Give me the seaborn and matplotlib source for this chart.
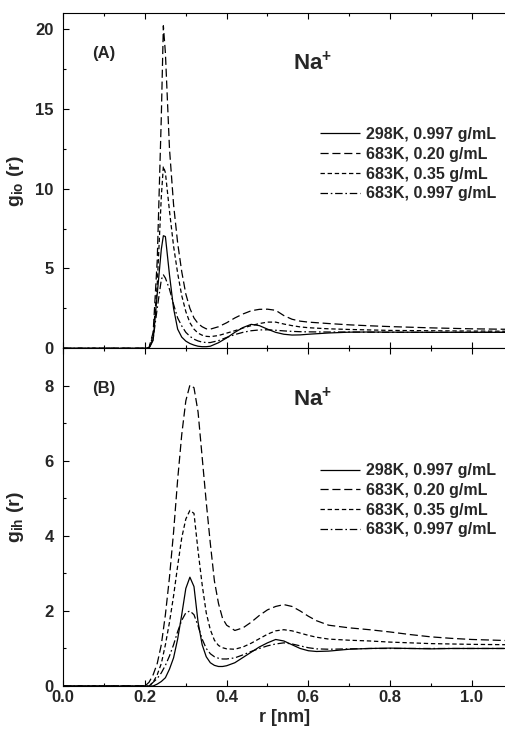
import matplotlib
matplotlib.use("Agg")
import matplotlib.pyplot as plt
from matplotlib.ticker import MultipleLocator
import seaborn as sns

# ---------------- data ----------------
labels = ["298K, 0.997 g/mL", "683K, 0.20 g/mL", "683K, 0.35 g/mL", "683K, 0.997 g/mL"]

# panel A : Na+ - O
r_io = [0.00, 0.20, 0.21, 0.22, 0.23, 0.24, 0.245, 0.25, 0.26, 0.27, 0.28, 0.29, 0.30,
        0.31, 0.32, 0.33, 0.34, 0.35, 0.36, 0.38, 0.40, 0.42, 0.44, 0.46, 0.48, 0.50,
        0.52, 0.54, 0.56, 0.58, 0.60, 0.65, 0.70, 0.75, 0.80, 0.90, 1.00, 1.09]
gio_298_0997 = [0, 0, 0.0, 0.5, 3.4, 6.2, 7.05, 7.0, 4.6, 2.5, 1.2, 0.7, 0.45, 0.3, 0.2,
                0.13, 0.1, 0.1, 0.13, 0.35, 0.65, 1.0, 1.3, 1.5, 1.42, 1.2, 1.0, 0.88,
                0.83, 0.84, 0.88, 0.96, 1.01, 1.02, 1.01, 1.0, 1.0, 1.0]
gio_683_020 = [0, 0, 0.05, 1.0, 5.5, 14.5, 20.2, 18.5, 12.5, 9.0, 6.6, 4.8, 3.4, 2.5, 1.9,
               1.55, 1.35, 1.22, 1.2, 1.35, 1.6, 1.9, 2.15, 2.35, 2.44, 2.45, 2.38, 2.05,
               1.82, 1.7, 1.64, 1.55, 1.47, 1.41, 1.36, 1.28, 1.22, 1.19]
gio_683_035 = [0, 0, 0.03, 0.8, 4.0, 9.5, 11.4, 11.0, 8.6, 6.4, 4.7, 3.3, 2.3, 1.6, 1.2,
               0.95, 0.82, 0.75, 0.73, 0.8, 0.95, 1.1, 1.27, 1.42, 1.55, 1.64, 1.64, 1.52,
               1.42, 1.34, 1.29, 1.22, 1.18, 1.15, 1.12, 1.1, 1.08, 1.07]
gio_683_0997 = [0, 0, 0.0, 0.6, 2.5, 4.3, 4.6, 4.4, 3.7, 2.75, 1.9, 1.4, 1.0, 0.75, 0.57,
                0.46, 0.39, 0.36, 0.36, 0.48, 0.68, 0.86, 1.0, 1.1, 1.15, 1.16, 1.13, 1.09,
                1.06, 1.04, 1.03, 1.02, 1.02, 1.01, 1.0, 1.0, 1.0, 1.0]

# panel B : Na+ - H
r_ih = [0.00, 0.20, 0.21, 0.22, 0.23, 0.24, 0.25, 0.26, 0.27, 0.28, 0.29, 0.30, 0.31, 0.32,
        0.33, 0.34, 0.35, 0.36, 0.37, 0.38, 0.39, 0.40, 0.42, 0.44, 0.46, 0.48, 0.50, 0.52,
        0.54, 0.56, 0.58, 0.60, 0.62, 0.65, 0.70, 0.75, 0.80, 0.85, 0.90, 0.95, 1.00, 1.09]
gih_298_0997 = [0, 0, 0, 0, 0.05, 0.12, 0.22, 0.45, 0.75, 1.25, 1.9, 2.6, 2.9, 2.65, 1.7,
                1.1, 0.78, 0.62, 0.55, 0.52, 0.52, 0.54, 0.62, 0.76, 0.9, 1.04, 1.15, 1.24,
                1.2, 1.1, 1.0, 0.94, 0.92, 0.93, 0.98, 1.0, 1.01, 1.0, 0.99, 1.0, 1.0, 1.0]
gih_683_020 = [0, 0, 0.1, 0.3, 0.6, 1.1, 1.9, 2.9, 4.1, 5.5, 6.7, 7.6, 8.02, 7.95, 7.3, 6.1,
               4.9, 3.8, 2.8, 2.2, 1.8, 1.62, 1.48, 1.55, 1.7, 1.88, 2.03, 2.12, 2.17, 2.12,
               2.0, 1.86, 1.74, 1.62, 1.55, 1.5, 1.44, 1.37, 1.31, 1.27, 1.24, 1.21]
gih_683_035 = [0, 0, 0, 0.1, 0.3, 0.6, 1.1, 1.7, 2.4, 3.2, 3.95, 4.45, 4.68, 4.6, 3.6, 2.7,
               1.95, 1.5, 1.22, 1.08, 1.02, 0.99, 0.98, 1.04, 1.14, 1.26, 1.38, 1.47, 1.5,
               1.47, 1.41, 1.35, 1.3, 1.25, 1.22, 1.2, 1.17, 1.15, 1.13, 1.12, 1.11, 1.10]
gih_683_0997 = [0, 0, 0, 0.1, 0.2, 0.35, 0.55, 0.8, 1.1, 1.45, 1.75, 1.95, 2.0, 1.9, 1.6,
                1.25, 1.0, 0.86, 0.78, 0.74, 0.72, 0.72, 0.75, 0.83, 0.92, 1.0, 1.07, 1.12,
                1.15, 1.12, 1.07, 1.02, 0.99, 0.98, 0.99, 1.0, 1.0, 1.0, 1.0, 1.0, 1.0, 1.0]

x_ticks = [0.0, 0.2, 0.4, 0.6, 0.8, 1.0]

# ---------------- style ----------------
sns.set_theme(style="ticks")
FONT = ["Liberation Sans", "DejaVu Sans"]
plt.rcParams["font.family"] = FONT
plt.rcParams["font.weight"] = "bold"
plt.rcParams["mathtext.fontset"] = "custom"
plt.rcParams["mathtext.rm"] = "Liberation Sans:bold"
plt.rcParams["mathtext.it"] = "Liberation Sans:bold"
plt.rcParams["mathtext.bf"] = "Liberation Sans:bold"

styles = [(0, ()), (0, (6.5, 3.0)), (0, (3.5, 2.2)), (0, (6.0, 2.2, 1.3, 2.2))]

fig = plt.figure(figsize=(5.06, 7.33), dpi=100)
L, R = 63.3 / 506, 1.0
axA = fig.add_axes([L, 1 - 348.3 / 733, R - L, (348.3 - 13) / 733])
axB = fig.add_axes([L, 1 - 686 / 733, R - L, (686 - 348.3) / 733])

panels = [
    (axA, r_io, [gio_298_0997, gio_683_020, gio_683_035, gio_683_0997], 21, 5, 2.5,
     r"$\mathrm{g_{io}}$ (r)", "(A)"),
    (axB, r_ih, [gih_298_0997, gih_683_020, gih_683_035, gih_683_0997], 9, 2, 1,
     r"$\mathrm{g_{ih}}$ (r)", "(B)"),
]

for ax, r, series, ymax, ymaj, ymin, ylab, tag in panels:
    for g, lab, ls in zip(series, labels, styles):
        sns.lineplot(x=r, y=g, ax=ax, color="black", linewidth=0.9,
                     linestyle=ls, label=lab)
    ax.set_xlim(0, 1.084)
    ax.set_ylim(0, ymax)
    ax.xaxis.set_major_locator(MultipleLocator(0.2))
    ax.xaxis.set_minor_locator(MultipleLocator(0.1))
    ax.yaxis.set_major_locator(MultipleLocator(ymaj))
    ax.yaxis.set_minor_locator(MultipleLocator(ymin))
    ax.tick_params(which="both", direction="in", top=True, bottom=True,
                   left=True, right=False, width=0.8, color="black")
    ax.tick_params(which="major", length=4)
    ax.tick_params(which="minor", length=2.5)
    ax.tick_params(axis="y", labelsize=12, pad=7)
    ax.tick_params(axis="x", labelsize=12, pad=3)
    for t in ax.get_yticklabels() + ax.get_xticklabels():
        t.set_fontweight("bold")
    ax.spines["right"].set_visible(False)
    for s in ["left", "top", "bottom"]:
        ax.spines[s].set_linewidth(0.8)
        ax.spines[s].set_color("black")
    ax.set_ylabel(ylab, fontsize=14, fontweight="bold")
    ax.yaxis.set_label_coords(-0.085, 0.5)
    ax.set_xlabel("")
    ax.text(0.091, 0.88, tag, transform=ax.transAxes, fontsize=12,
            fontweight="bold", ha="center", va="center")
    ax.text(0.564, 0.85, r"Na$^{+}$", transform=ax.transAxes, fontsize=16,
            fontweight="bold", ha="center", va="center")
    leg = ax.legend(loc="upper left", bbox_to_anchor=(0.58, 0.66), frameon=False,
                    prop={"family": FONT, "weight": "bold", "size": 11.5},
                    handlelength=2.5, handletextpad=0.38, labelspacing=0.3,
                    borderpad=0, borderaxespad=0)
    for h in leg.get_lines():
        h.set_linewidth(0.9)

axA.tick_params(axis="x", labelbottom=False)
axB.set_xticks(x_ticks)
axB.set_xticklabels([f"{v:.1f}" for v in x_ticks], fontweight="bold")
axB.set_xlabel("r [nm]", fontsize=13, fontweight="bold", labelpad=3)

fig.savefig("out.png", dpi=100)
